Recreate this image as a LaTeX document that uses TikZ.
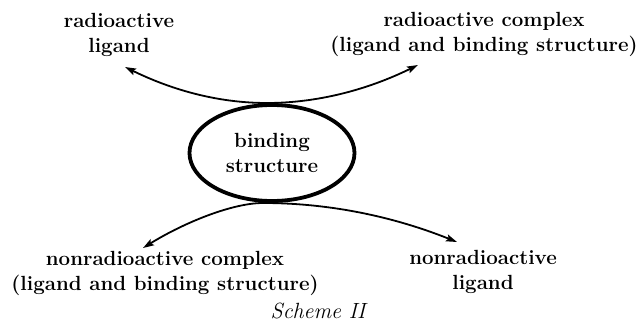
\documentclass[tikz,border=0pt]{standalone}
\usetikzlibrary{shapes.geometric,arrows.meta}
\begin{document}
\begin{tikzpicture}[x=1pt,y=-1pt,
  lbl/.style={align=center,font=\fontsize{20.5}{25}\selectfont\bfseries,inner sep=0pt},
  conn/.style={line width=1.8pt,-{Stealth[length=11pt,width=7pt,inset=2pt]}}]
\useasboundingbox (0,0) rectangle (641,324);
\node[ellipse,draw,line width=3.8pt,minimum width=165pt,minimum height=96pt,align=center,
  font=\fontsize{20.5}{25}\selectfont\bfseries,inner sep=0pt] (b) at (272,153) {binding\\structure};
\node[lbl] (rl) at (119,35) {radioactive\\ligand};
\node[lbl] (rc) at (484,34) {radioactive complex\\(ligand and binding structure)};
\node[lbl] (nc) at (165,273) {nonradioactive complex\\(ligand and binding structure)};
\node[lbl] (nl) at (483,272) {nonradioactive\\ligand};
\node[font=\fontsize{22}{24}\selectfont\itshape,inner sep=0pt] (s) at (318,311) {Scheme II};
\coordinate (t1) at (125,67);
\coordinate (t2) at (418,65);
\coordinate (t3) at (143,248);
\coordinate (t4) at (457,242);
\coordinate (top) at (267,103);
\coordinate (bot) at (263,203);
\draw[conn] (top) .. controls (220,103) and (174,91) .. (t1);
\draw[conn] (top) .. controls (317,103) and (367,90) .. (t2);
\draw[conn] (bot) .. controls (233,203) and (185,222) .. (t3);
\draw[conn] (bot) .. controls (328,203) and (392,216) .. (t4);
\end{tikzpicture}
\end{document}
